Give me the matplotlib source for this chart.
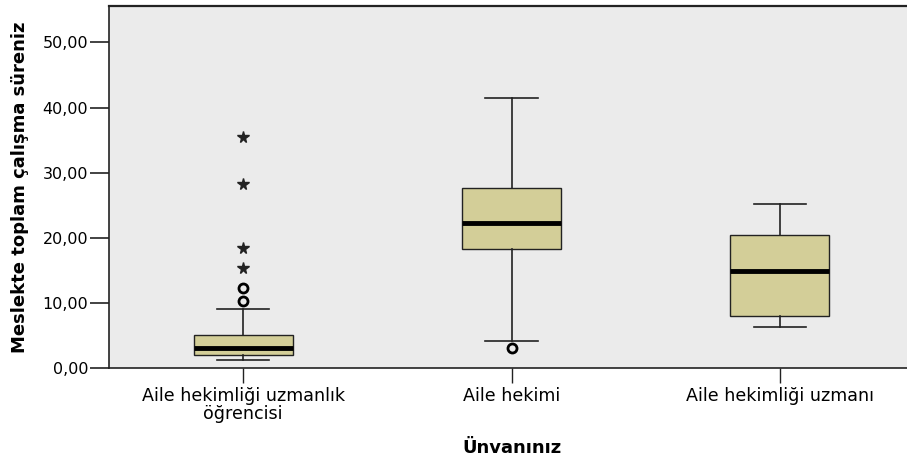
import matplotlib.pyplot as plt
from matplotlib.ticker import FuncFormatter

plt.rcParams['font.family'] = ['DejaVu Sans']

# values
groups = ["Aile hekimliği uzmanlık\nöğrencisi", "Aile hekimi", "Aile hekimliği uzmanı"]
q1 = [2.05, 18.3, 8.0]
medians = [3.07, 22.2, 14.9]
q3 = [5.0, 27.7, 20.4]
whisker_low = [1.18, 4.2, 6.3]
whisker_high = [9.06, 41.5, 25.2]
outliers = [[10.25, 12.3], [3.07], []]     # circles
extremes = [[15.3, 18.5, 28.3, 35.5], [], []]  # stars

stats = []
for i, name in enumerate(groups):
    stats.append({"label": name, "q1": q1[i], "med": medians[i], "q3": q3[i],
                  "whislo": whisker_low[i], "whishi": whisker_high[i], "fliers": []})

fig = plt.figure(figsize=(9.07, 4.61), dpi=100)
ax = fig.add_axes([109 / 907, 1 - 368 / 461, 805 / 907, 362 / 461])
ax.set_facecolor("#ebebeb")

positions = [1, 2, 3]
ax.bxp(stats, positions=positions, widths=0.37, patch_artist=True, showfliers=False,
       boxprops=dict(facecolor="#d3ce98", edgecolor="#222222", linewidth=1.0),
       medianprops=dict(color="black", linewidth=3.5),
       whiskerprops=dict(color="#222222", linewidth=1.2),
       capprops=dict(color="#222222", linewidth=1.2), capwidths=0.195)

for p, vals in zip(positions, outliers):
    if vals:
        ax.plot([p] * len(vals), vals, linestyle="none", marker="o", markersize=6.5,
                markerfacecolor="none", markeredgecolor="black", markeredgewidth=2)
for p, vals in zip(positions, extremes):
    if vals:
        ax.plot([p] * len(vals), vals, linestyle="none", marker="*", markersize=8.5,
                color="#222222")

ax.set_xlim(0.5, 3.5)
ax.set_ylim(0, 55.6)
ax.set_yticks([0, 10, 20, 30, 40, 50])
ax.yaxis.set_major_formatter(FuncFormatter(lambda v, _: f"{v:.2f}".replace(".", ",")))
ax.set_xticks(positions)
ax.set_xticklabels(groups, fontsize=12.6, linespacing=0.95)
ax.tick_params(axis="y", length=14, width=1.2, labelsize=11.5, pad=1, color="#222222")
ax.tick_params(axis="x", length=11, width=1.0, labelsize=12.6, pad=3, color="#222222")

for s in ax.spines.values():
    s.set_color("#222222")
    s.set_linewidth(1.2)
ax.spines["top"].set_linewidth(1.6)

ax.set_ylabel("Meslekte toplam çalışma süreniz", fontsize=13, fontweight="bold", labelpad=10)
ax.set_xlabel("Ünvanınız", fontsize=13, fontweight="bold", labelpad=12)

fig.savefig("out.png", dpi=100)
